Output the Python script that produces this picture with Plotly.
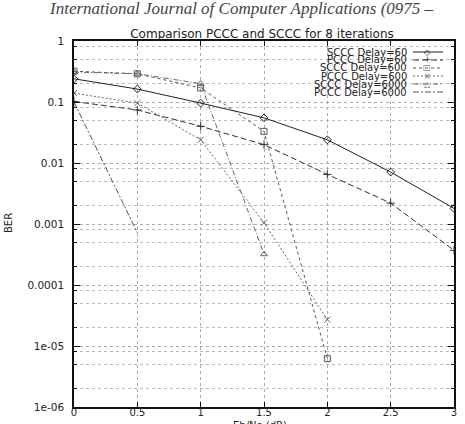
import plotly.graph_objects as go

# ---- data ----
ebno = [0, 0.5, 1, 1.5, 2, 2.5, 3]
sccc60 = [0.24, 0.163, 0.096, 0.055, 0.024, 0.0071, 0.0018]
pccc60 = [0.102, 0.074, 0.040, 0.020, 0.0065, 0.0022, 0.00037]

ebno600 = [0, 0.5, 1, 1.5, 2]
sccc600 = [0.32, 0.29, 0.17, 0.033, 6.2e-6]
pccc600 = [0.14, 0.096, 0.024, 0.00105, 2.7e-5]

ebno_s6000 = [0, 0.5, 1, 1.5]
sccc6000 = [0.31, 0.29, 0.20, 3.2e-4]

ebno_p6000 = [0, 0.5]
pccc6000 = [0.10, 0.00072]

names = ["SCCC Delay=60", "PCCC Delay=60", "SCCC Delay=600",
         "PCCC Delay=600", "SCCC Delay=6000", "PCCC Delay=6000"]

xticks = [0, 0.5, 1, 1.5, 2, 2.5, 3]
xticktext = ["0", "0.5", "1", "1.5", "2", "2.5", "3"]
yticks = [1, 0.1, 0.01, 0.001, 0.0001, 1e-5, 1e-6]
yticktext = ["1", "0.1", "0.01", "0.001", "0.0001", "1e-05", "1e-06"]

# ---- styles ----
series = [
    (ebno, sccc60, "#222222", "solid", "diamond-open", "\u25c7"),
    (ebno, pccc60, "#333333", "6px,3px", "cross-thin-open", "+"),
    (ebno600, sccc600, "#555555", "3px,3px", "square-open", "\u25a1"),
    (ebno600, pccc600, "#666666", "2px,2px", "x-thin-open", "\u00d7"),
    (ebno_s6000, sccc6000, "#666666", "5px,2px,1px,2px", "triangle-up-open", "\u25b3"),
    (ebno_p6000, pccc6000, "#555555", "6px,2px,2px,2px", None, None),
]

W, H = 465, 424
L, R, T, B = 74, 11, 41, 17
pw, ph = W - L - R, H - T - B

def px(x):
    return (x - L) / pw

def py(y):
    return (H - B - y) / ph

fig = go.Figure()
for (xs, ys, col, dash, sym, glyph), nm in zip(series, names):
    fig.add_trace(go.Scatter(
        x=xs, y=ys, name=nm,
        mode="lines+markers" if sym else "lines",
        line=dict(color=col, width=1, dash=dash),
        marker=dict(symbol=sym or "circle", size=6, color=col,
                    line=dict(color=col, width=1)),
        showlegend=False,
    ))

# manual compact legend (as in the gnuplot original)
shapes = []
annotations = []
row_y = [52, 60, 68, 76, 84, 92]
for (xs, ys, col, dash, sym, glyph), nm, yy in zip(series, names, row_y):
    annotations.append(dict(
        x=px(408), y=py(yy), xref="paper", yref="paper",
        text=nm, showarrow=False, xanchor="right", yanchor="middle",
        borderpad=0,
        font=dict(family="DejaVu Sans", size=10, color="#222")))
    shapes.append(dict(
        type="line", xref="paper", yref="paper",
        x0=px(413), x1=px(443), y0=py(yy), y1=py(yy),
        line=dict(color=col, width=1, dash=dash)))
    if glyph:
        annotations.append(dict(
            x=px(427), y=py(yy), xref="paper", yref="paper",
            text=glyph, showarrow=False, xanchor="center", yanchor="middle",
            borderpad=0,
            font=dict(family="DejaVu Sans", size=8, color=col)))

# axis title annotations
annotations.append(dict(
    x=px(260), y=py(425), xref="paper", yref="paper", text="Eb/No (dB)",
    showarrow=False, xanchor="center", yanchor="middle",
    font=dict(family="DejaVu Sans", size=10, color="#222")))
annotations.append(dict(
    x=px(8), y=py(223), xref="paper", yref="paper", text="BER",
    showarrow=False, textangle=-90, xanchor="center", yanchor="middle",
    font=dict(family="DejaVu Sans", size=10, color="#222")))
# page header (cropped in the reference)
annotations.append(dict(
    x=px(47), y=py(20), xref="paper", yref="paper",
    text="International Journal of Computer Applications (0975 \u2013",
    showarrow=False, xanchor="left", yanchor="bottom",
    font=dict(family="Liberation Serif", size=17, style="italic", color="#444")))

minor_y = []
for e in range(-6, 0):
    for m in (2, 5, 8):
        minor_y.append(m * 10 ** e)

fig.update_layout(
    width=W, height=H,
    margin=dict(l=L, r=R, t=T, b=B, autoexpand=False),
    paper_bgcolor="white", plot_bgcolor="white",
    title=dict(text="Comparison PCCC and SCCC for 8 iterations",
               x=px(262), xref="paper", xanchor="center",
               y=1 - 34 / H, yanchor="middle", automargin=False,
               font=dict(family="DejaVu Sans", size=12, color="#222")),
    shapes=shapes, annotations=annotations,
    showlegend=False,
    xaxis=dict(range=[0, 3], tickvals=xticks, ticktext=xticktext,
               automargin=False,
               showline=True, linecolor="#111", linewidth=1.5, mirror="ticks",
               ticks="inside", ticklen=5, tickcolor="#111",
               showgrid=True, gridcolor="#aaaaaa", griddash="dot", gridwidth=1,
               zeroline=False, ticklabelstandoff=-5,
               tickfont=dict(family="DejaVu Sans", size=10, color="#222")),
    yaxis=dict(type="log", range=[-6, 0], tickvals=yticks, ticktext=yticktext,
               automargin=False,
               showline=True, linecolor="#111", linewidth=1.5, mirror="ticks",
               ticks="inside", ticklen=6, tickcolor="#111",
               showgrid=True, gridcolor="#aaaaaa", griddash="dot", gridwidth=1,
               zeroline=False, ticklabelstandoff=6,
               minor=dict(tickvals=minor_y, ticks="inside", ticklen=3,
                          tickcolor="#111", showgrid=True,
                          gridcolor="#bbbbbb", griddash="dot"),
               tickfont=dict(family="DejaVu Sans", size=10.5, color="#222")),
)

fig.write_html("out.html")
